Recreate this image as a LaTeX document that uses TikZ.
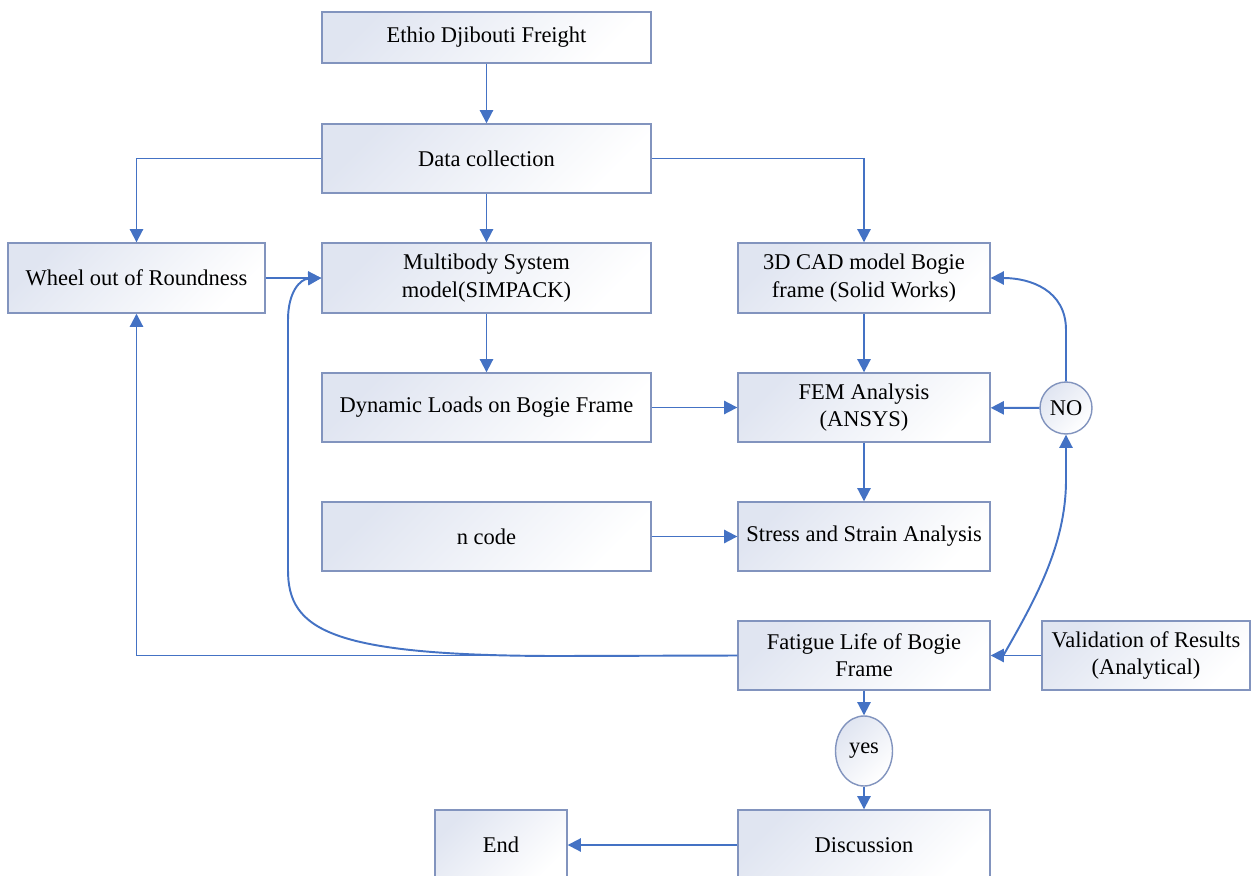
\documentclass[tikz,border=0pt]{standalone}
\usepackage{fontspec}
\setmainfont{Liberation Serif}
\usetikzlibrary{arrows.meta,shapes.geometric}
\definecolor{arrowblue}{HTML}{4472C4}
\definecolor{boxline}{HTML}{8294BE}
\definecolor{boxshade}{HTML}{E0E5F1}
\tikzset{
  fbox/.style={draw=boxline, line width=0.8pt, top color=boxshade, bottom color=white, shading angle=45,
    inner sep=0pt, align=center, font=\fontsize{12.8}{15.5}\selectfont},
  conn/.style={draw=arrowblue, line width=1.1pt, -{Triangle[length=7.5pt,width=7.5pt]}},
}
\begin{document}
\begin{tikzpicture}[x=0.02cm,y=-0.02cm]
\useasboundingbox (0,0) rectangle (1252,876);
\clip (0,0) rectangle (1252,876);
\fill[white] (0,0) rectangle (1252,876);

\node[fbox, minimum width=6.58cm, minimum height=1.02cm] (ethio) at (486.5,37.5) {Ethio Djibouti Freight};
\node[fbox, minimum width=6.58cm, minimum height=1.38cm] (data) at (486.5,158.5) {Data collection};
\node[fbox, minimum width=5.14cm, minimum height=1.40cm] (wheel) at (136.5,278) {Wheel out of Roundness};
\node[fbox, minimum width=6.58cm, minimum height=1.40cm] (multi) at (486.5,278) {Multibody System\\model(SIMPACK)};
\node[fbox, minimum width=5.04cm, minimum height=1.40cm] (cad) at (864,278) {3D CAD model Bogie\\frame (Solid Works)};
\node[fbox, minimum width=6.58cm, minimum height=1.38cm] (dyn) at (486.5,407.5) {Dynamic Loads on Bogie Frame};
\node[fbox, minimum width=5.04cm, minimum height=1.38cm] (fem) at (864,407.5) {FEM Analysis\\(ANSYS)};
\node[fbox, minimum width=6.58cm, minimum height=1.38cm] (ncode) at (486.5,536.5) {n code};
\node[fbox, minimum width=5.04cm, minimum height=1.38cm] (stress) at (864,536.5) {Stress and Strain Analysis};
\node[fbox, minimum width=5.04cm, minimum height=1.38cm] (fatigue) at (864,655.5) {Fatigue Life of Bogie\\Frame};
\node[fbox, minimum width=4.16cm, minimum height=1.38cm] (valid) at (1146,655.5) {Validation of Results\\(Analytical)};
\node[fbox, circle, minimum size=1.04cm] (no) at (1066,408) {NO};
\node[fbox, ellipse, minimum width=1.14cm, minimum height=1.40cm] (yes) at (864,751) {yes};
\node[fbox, minimum width=5.04cm, minimum height=1.40cm] (disc) at (864,845) {Discussion};
\node[fbox, minimum width=2.64cm, minimum height=1.40cm] (end) at (501,845) {End};

\coordinate (vstart) at (1003,656);

\draw[conn] (ethio) -- (data);
\draw[conn] (data.west) -| (wheel.north);
\draw[conn] (data.east) -| (cad.north);
\draw[conn] (data) -- (multi);
\draw[conn] (wheel) -- (multi);
\draw[conn] (multi) -- (dyn);
\draw[conn] (cad) -- (fem);
\draw[conn] (dyn) -- (fem);
\draw[conn] (fem) -- (stress);
\draw[conn] (ncode) -- (stress);
\draw[conn] (no) -- (fem);
\draw[conn] (no.north) -- (1066,330) .. controls (1066,290) and (1030,278) .. (cad.east);
\draw[conn] (valid) -- (fatigue);
\draw[conn] (vstart) .. controls (1035,600) and (1066,545) .. (1066,480) -- (no.south);
\draw[conn] (fatigue.west) -| (wheel.south);
\draw[conn] (fatigue.west) -- (560,656) .. controls (330,656) and (288,630) .. (288,570) -- (288,320) .. controls (288,292) and (300,279) .. (multi.west);
\draw[conn] (fatigue) -- (yes);
\draw[conn] (yes) -- (disc);
\draw[conn] (disc) -- (end);
\end{tikzpicture}
\end{document}
